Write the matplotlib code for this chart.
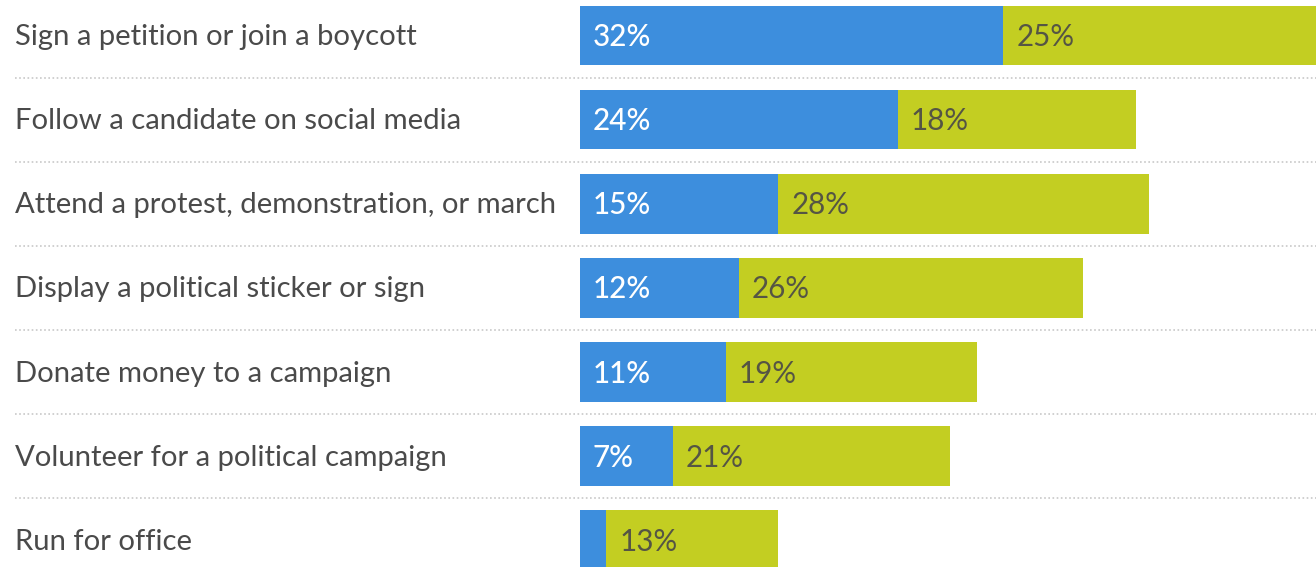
import matplotlib.pyplot as plt
import numpy as np

categories = [
    "Sign a petition or join a boycott",
    "Follow a candidate on social media",
    "Attend a protest, demonstration, or march",
    "Display a political sticker or sign",
    "Donate money to a campaign",
    "Volunteer for a political campaign",
    "Run for office",
]
blue_vals = [32, 24, 15, 12, 11, 7, 2]
green_vals = [25, 18, 28, 26, 19, 21, 13]
blue_labels = ["32%", "24%", "15%", "12%", "11%", "7%", ""]
green_labels = ["25%", "18%", "28%", "26%", "19%", "21%", "13%"]

BLUE = "#3d8edd"
GREEN = "#c3ce22"
W, H = 1316, 567
PX_PER_PCT = 13.23
BAR_X0 = 580
PITCH = 84.1
ROW0 = 35.5

plt.rcParams["font.family"] = ["Lato", "DejaVu Sans"]

fig = plt.figure(figsize=(W / 100, H / 100), dpi=100)
ax = fig.add_axes([0, 0, 1, 1])
ax.set_xlim(-BAR_X0 / PX_PER_PCT, (W - BAR_X0) / PX_PER_PCT)
ax.set_ylim((H - ROW0) / PITCH, -ROW0 / PITCH)
ax.axis("off")

y = np.arange(len(categories))
ax.barh(y, blue_vals, height=0.71, color=BLUE, edgecolor="none")
ax.barh(y, green_vals, left=blue_vals, height=0.71, color=GREEN, edgecolor="none")

x_text = -(BAR_X0 - 15) / PX_PER_PCT
pad = 13 / PX_PER_PCT
for i, cat in enumerate(categories):
    ax.text(x_text, i + 0.02, cat, ha="left", va="center", fontsize=21.1, color="#4a4a4a")
    if blue_labels[i]:
        ax.text(pad, i + 0.02, blue_labels[i], ha="left", va="center", fontsize=21.3,
                color="white", fontweight="medium")
    ax.text(blue_vals[i] + pad, i + 0.02, green_labels[i], ha="left", va="center",
            fontsize=21.3, color="#555544")

for i in range(len(categories) - 1):
    ax.axhline(i + 0.5, xmin=15 / W, xmax=1, color="#c8c8c8", lw=1.2,
               ls=(0, (1, 1.5)))

fig.savefig("out.png", dpi=100)
